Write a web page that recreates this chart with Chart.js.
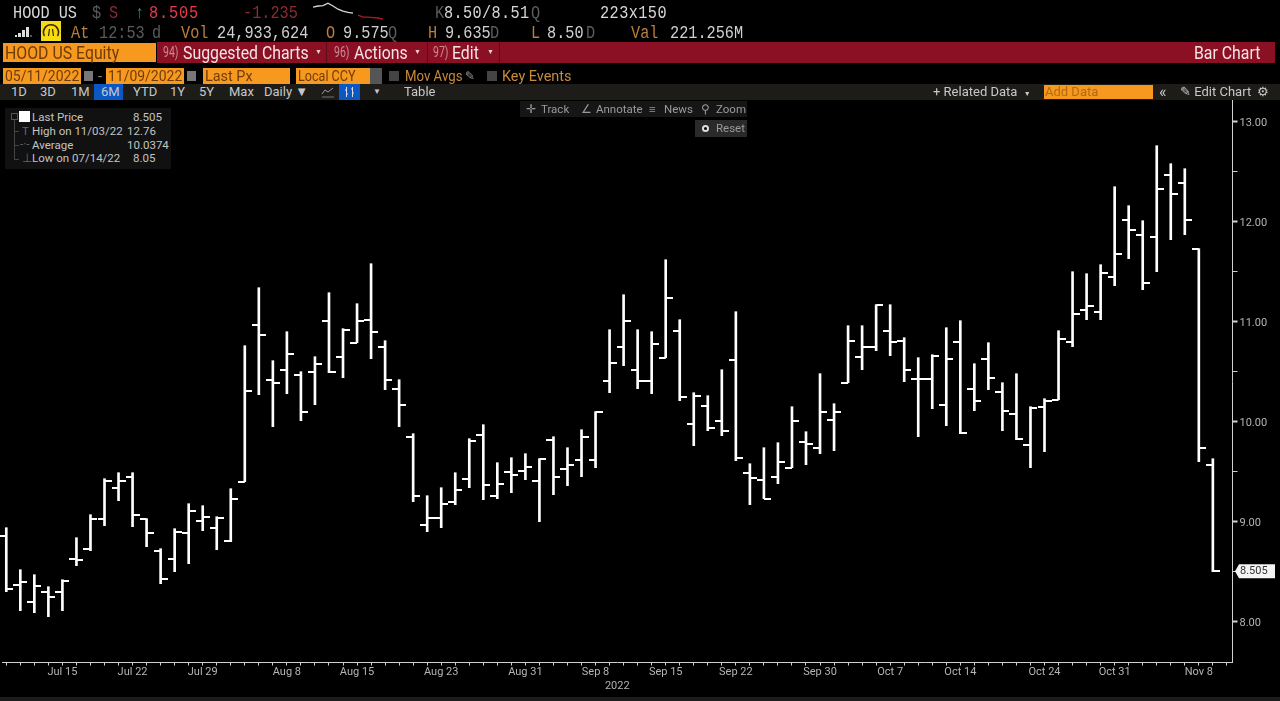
<!DOCTYPE html>
<html>
<head>
<meta charset="utf-8">
<script src="https://cdn.jsdelivr.net/npm/chart.js@4"></script>
<style>
html, body { margin: 0; padding: 0; width: 1280px; height: 701px; overflow: hidden; background: #000; }
body { font-family: "Roboto", sans-serif; position: relative; }
canvas { position: absolute; left: 0; top: 0; }
.t { position: absolute; white-space: pre; transform-origin: 0 50%; }
.box { position: absolute; }
.r1, .r2 { font-family: "Liberation Mono", monospace; font-size: 17.5px; line-height: 20px; color: #d8d8d8; transform: scaleX(.87); }
.r1 { top: 3px; }
.r2 { top: 23px; color: #d0d0d0; }
.tan { color: #b97f3d; }
.dim { color: #5c5c5c; }
.r3 { font-size: 18px; line-height: 21px; top: 42px; color: #f4e4e4; transform: scaleX(.88); }
.num { font-size: 14px; color: #c98a94; transform: scaleX(.75); }
.arr { font-size: 7px; color: #e8d0d0; transform: none; }
.r4 { font-size: 15px; line-height: 16px; top: 68px; color: #6e3c08; }
.r5 { font-size: 13px; line-height: 16px; top: 84px; color: #c8c8c8; }
.tool { font-size: 11.5px; line-height: 15px; top: 102px; color: #9a9a9a; }
.leg { font-size: 11.5px; line-height: 14px; color: #c4c4c4; }
</style>
</head>
<body>
<canvas id="ohlc_chart" width="1280" height="701"></canvas>

<!-- top rows -->
<span class="t r1" style="left:13px">HOOD US</span>
<span class="t r1 dim" style="left:92px">$</span>
<span class="t r1" style="left:109px;color:#8c2b33">S</span>
<span class="t r1" style="left:135px;color:#2f9a55">↑</span>
<span class="t r1" style="left:149px;color:#e8384f;letter-spacing:1px">8.505</span>
<span class="t r1" style="left:243px;color:#8c2b33">-1.235</span>
<canvas id="spark" width="70" height="22" style="left:313px;top:0"></canvas>
<span class="t r1 dim" style="left:435px">K</span>
<span class="t r1" style="left:444px;letter-spacing:.4px">8.50/8.51</span>
<span class="t r1 dim" style="left:531px">Q</span>
<span class="t r1" style="left:600px;letter-spacing:.5px">223x150</span>

<svg class="box" style="left:15px;top:26px" width="20" height="12"><rect x="0" y="9" width="2" height="2" fill="#ddd"/><rect x="3" y="7" width="3" height="4" fill="#ddd"/><rect x="7" y="4" width="3" height="7" fill="#ddd"/><rect x="11" y="1" width="3" height="10" fill="#ddd"/><rect x="15" y="9" width="2" height="2" fill="#555"/></svg>
<svg class="box" style="left:41px;top:21px" width="20" height="20"><rect width="20" height="20" fill="#f6dc12"/><path d="M3.5 15 A7.5 7.5 0 1 1 16.5 15" fill="none" stroke="#3a2a00" stroke-width="1.6"/><path d="M7.5 15 L8.5 8 M12.5 15 L11.5 8" stroke="#3a2a00" stroke-width="1.2"/></svg>
<span class="t r2 tan" style="left:71px">At</span>
<span class="t r2 dim" style="left:99px">12:53</span>
<span class="t r2 dim" style="left:152px">d</span>
<span class="t r2 tan" style="left:181px">Vol</span>
<span class="t r2" style="left:217px">24,933,624</span>
<span class="t r2 tan" style="left:326px">O</span>
<span class="t r2" style="left:343px">9.575</span>
<span class="t r2 dim" style="left:388px">Q</span>
<span class="t r2 tan" style="left:428px">H</span>
<span class="t r2" style="left:445px">9.635</span>
<span class="t r2 dim" style="left:490px">D</span>
<span class="t r2 tan" style="left:531px">L</span>
<span class="t r2" style="left:547px">8.50</span>
<span class="t r2 dim" style="left:586px">D</span>
<span class="t r2 tan" style="left:631px">Val</span>
<span class="t r2" style="left:670px">221.256M</span>

<!-- red menu bar -->
<div class="box" style="left:157px;top:42px;width:1118px;height:21px;background:#8c1024"></div>
<div class="box" style="left:326px;top:42px;width:1px;height:21px;background:#5e0a18"></div>
<div class="box" style="left:427px;top:42px;width:1px;height:21px;background:#5e0a18"></div>
<div class="box" style="left:499px;top:42px;width:1px;height:21px;background:#5e0a18"></div>
<div class="box" style="left:3px;top:43px;width:153px;height:19px;background:#f7981f"></div>
<span class="t r3" style="left:5px;color:#6e3c08">HOOD US Equity</span>
<span class="t r3 num" style="left:163px">94)</span>
<span class="t r3" style="left:183px">Suggested Charts</span>
<span class="t r3 arr" style="left:315px">▼</span>
<span class="t r3 num" style="left:334px">96)</span>
<span class="t r3" style="left:354px">Actions</span>
<span class="t r3 arr" style="left:414px">▼</span>
<span class="t r3 num" style="left:433px">97)</span>
<span class="t r3" style="left:452px">Edit</span>
<span class="t r3 arr" style="left:487px">▼</span>
<span class="t r3" style="left:1194px">Bar Chart</span>

<!-- date and field row -->
<div class="box" style="left:3px;top:68px;width:78px;height:16px;background:#f7981f"></div>
<div class="box" style="left:84px;top:71px;width:9px;height:10px;background:#777"></div>
<span class="t r4" style="left:98px;color:#888">-</span>
<div class="box" style="left:106px;top:68px;width:78px;height:16px;background:#f7981f"></div>
<div class="box" style="left:187px;top:71px;width:9px;height:10px;background:#777"></div>
<div class="box" style="left:203px;top:68px;width:87px;height:16px;background:#f7981f"></div>
<div class="box" style="left:296px;top:68px;width:74px;height:16px;background:#f7981f"></div>
<div class="box" style="left:370px;top:68px;width:12px;height:16px;background:#555"></div>
<div class="box" style="left:389px;top:71px;width:10px;height:10px;background:#444"></div>
<div class="box" style="left:487px;top:71px;width:10px;height:10px;background:#444"></div>
<span class="t r4" style="left:5px;transform:scaleX(.93)">05/11/2022</span>
<span class="t r4" style="left:108px;transform:scaleX(.93)">11/09/2022</span>
<span class="t r4" style="left:205px;transform:scaleX(.96)">Last Px</span>
<span class="t r4" style="left:298px;transform:scaleX(.84)">Local CCY</span>
<span class="t r4" style="left:405px;color:#c98a3a;transform:scaleX(.88)">Mov Avgs</span>
<span class="t r4" style="left:465px;color:#999;font-family:'DejaVu Sans';font-size:12px">✎</span>
<span class="t r4" style="left:502px;color:#c98a3a;transform:scaleX(.96)">Key Events</span>

<!-- range buttons row -->
<div class="box" style="left:0;top:84px;width:1280px;height:16px;background:#1d1c19"></div>
<div class="box" style="left:94px;top:84px;width:29px;height:16px;background:#0b57c4"></div>
<div class="box" style="left:339px;top:84px;width:21px;height:16px;background:#0b57c4"></div>
<div class="box" style="left:1044px;top:85px;width:109px;height:14px;background:#f7981f"></div>
<span class="t r5" style="left:11px">1D</span>
<span class="t r5" style="left:40px">3D</span>
<span class="t r5" style="left:71px">1M</span>
<span class="t r5" style="left:101px">6M</span>
<span class="t r5" style="left:133px">YTD</span>
<span class="t r5" style="left:170px">1Y</span>
<span class="t r5" style="left:199px">5Y</span>
<span class="t r5" style="left:229px">Max</span>
<span class="t r5" style="left:264px">Daily ▼</span>
<svg class="box" style="left:321px;top:86px" width="14" height="12"><path d="M1 8 L4 4 L7 6 L12 2" fill="none" stroke="#999"/><path d="M1 11 H13" stroke="#777"/></svg>
<svg class="box" style="left:343px;top:86px" width="14" height="12"><path d="M3.5 1 V11 M2 4 H3.5 M3.5 8 H5 M9.5 1 V11 M8 3 H9.5 M9.5 7 H11" stroke="#ddd"/></svg>
<span class="t r5" style="left:373px;font-size:8px">▼</span>
<span class="t r5" style="left:404px">Table</span>
<span class="t r5" style="left:933px">+ Related Data  <span style="font-size:7px">▼</span></span>
<span class="t r5" style="left:1045px;color:#b06a10">Add Data</span>
<span class="t r5" style="left:1159px;font-size:16px">«</span>
<span class="t r5" style="left:1180px">✎ Edit Chart</span>
<span class="t r5" style="left:1257px;font-family:'DejaVu Sans'">⚙</span>

<!-- chart tools -->
<div class="box" style="left:520px;top:101px;width:227px;height:16px;background:#161616"></div>
<div class="box" style="left:695px;top:120px;width:52px;height:17px;background:#2a2a2a"></div>
<div class="box" style="left:702px;top:125px;width:7px;height:7px;border-radius:50%;background:#000;border:2px solid #ddd;box-sizing:border-box"></div>
<span class="t tool" style="left:526px">✛</span>
<span class="t tool" style="left:541px">Track</span>
<span class="t tool" style="left:581px">∠</span>
<span class="t tool" style="left:596px">Annotate</span>
<span class="t tool" style="left:649px">≡</span>
<span class="t tool" style="left:664px">News</span>
<span class="t tool" style="left:701px">⚲</span>
<span class="t tool" style="left:716px">Zoom</span>
<span class="t tool" style="left:716px;top:121px">Reset</span>

<!-- legend box -->
<div class="box" style="left:5px;top:108px;width:166px;height:61px;background:#111"></div>
<div class="box" style="left:19px;top:111px;width:11px;height:11px;background:#fff"></div>
<div class="box" style="left:11px;top:113px;width:5px;height:5px;border:1px solid #555"></div>
<div class="box" style="left:14px;top:120px;width:1px;height:39px;background:#444"></div>
<div class="box" style="left:14px;top:131px;width:5px;height:1px;background:#444"></div>
<div class="box" style="left:14px;top:145px;width:5px;height:1px;background:#444"></div>
<div class="box" style="left:14px;top:159px;width:5px;height:1px;background:#444"></div>
<span class="t leg" style="left:22px;top:124px;color:#666">T</span>
<span class="t leg" style="left:20px;top:137px;color:#666">-·-</span>
<span class="t leg" style="left:22px;top:151px;color:#666">⊥</span>
<span class="t leg" style="left:32px;top:110px">Last Price</span>
<span class="t leg" style="left:133px;top:110px">8.505</span>
<span class="t leg" style="left:32px;top:124px">High on 11/03/22</span>
<span class="t leg" style="left:127px;top:124px">12.76</span>
<span class="t leg" style="left:32px;top:138px">Average</span>
<span class="t leg" style="left:127px;top:138px">10.0374</span>
<span class="t leg" style="left:32px;top:151px">Low on 07/14/22</span>
<span class="t leg" style="left:133px;top:151px">8.05</span>

<div class="box" style="left:0;top:697px;width:1280px;height:4px;background:#1c1c1c"></div>

<script>
const categories = [
    'Jul 11', 'Jul 12', 'Jul 13', 'Jul 14', 'Jul 15', 'Jul 18', 'Jul 19', 'Jul 20', 'Jul 21', 'Jul 22',
    'Jul 25', 'Jul 26', 'Jul 27', 'Jul 28', 'Jul 29', 'Aug 1', 'Aug 2', 'Aug 3', 'Aug 4', 'Aug 5',
    'Aug 8', 'Aug 9', 'Aug 10', 'Aug 11', 'Aug 12', 'Aug 15', 'Aug 16', 'Aug 17', 'Aug 18', 'Aug 19',
    'Aug 22', 'Aug 23', 'Aug 24', 'Aug 25', 'Aug 26', 'Aug 29', 'Aug 30', 'Aug 31', 'Sep 1', 'Sep 2',
    'Sep 6', 'Sep 7', 'Sep 8', 'Sep 9', 'Sep 12', 'Sep 13', 'Sep 14', 'Sep 15', 'Sep 16', 'Sep 19',
    'Sep 20', 'Sep 21', 'Sep 22', 'Sep 23', 'Sep 26', 'Sep 27', 'Sep 28', 'Sep 29', 'Sep 30', 'Oct 3',
    'Oct 4', 'Oct 5', 'Oct 6', 'Oct 7', 'Oct 10', 'Oct 11', 'Oct 12', 'Oct 13', 'Oct 14', 'Oct 17',
    'Oct 18', 'Oct 19', 'Oct 20', 'Oct 21', 'Oct 24', 'Oct 25', 'Oct 26', 'Oct 27', 'Oct 28', 'Oct 31',
    'Nov 1', 'Nov 2', 'Nov 3', 'Nov 4', 'Nov 7', 'Nov 8', 'Nov 9'
];
const labelledDates = ['Jul 15', 'Jul 22', 'Jul 29', 'Aug 8', 'Aug 15', 'Aug 23', 'Aug 31', 'Sep 8', 'Sep 15',
    'Sep 22', 'Sep 30', 'Oct 7', 'Oct 14', 'Oct 24', 'Oct 31', 'Nov 8'];

const opens = [
    8.86, 8.37, 8.20, 8.30, 8.30, 8.63, 8.73, 9.03, 9.34, 9.45,
    9.03, 8.71, 8.63, 8.89, 9.01, 8.94, 8.81, 9.40, 10.97, 10.42,
    10.52, 10.47, 10.50, 11.01, 10.65, 10.79, 11.02, 10.75, 10.33, 9.85,
    8.97, 9.04, 9.20, 9.43, 9.87, 9.26, 9.50, 9.51, 9.41, 9.82,
    9.53, 9.62, 9.62, 10.41, 10.75, 10.52, 10.41, 10.64, 10.91, 9.98,
    10.16, 10.01, 10.62, 9.49, 9.42, 9.45, 9.54, 9.80, 9.74, 10.02,
    10.39, 10.65, 10.75, 10.91, 10.81, 10.43, 10.43, 10.17, 10.80, 10.33,
    10.63, 10.30, 10.08, 9.77, 10.15, 10.22, 10.80, 11.12, 11.10, 11.45,
    12.02, 11.87, 11.85, 12.47, 12.39, 11.73, 9.57
];
const highs = [
    8.94, 8.52, 8.47, 8.35, 8.42, 8.84, 9.07, 9.43, 9.49, 9.49,
    9.03, 8.73, 8.93, 9.18, 9.16, 9.05, 9.33, 10.76, 11.34, 10.61,
    10.90, 10.50, 10.65, 11.29, 10.93, 11.18, 11.58, 10.81, 10.42, 9.88,
    9.26, 9.34, 9.49, 9.83, 9.97, 9.59, 9.64, 9.68, 9.63, 9.85,
    9.74, 9.92, 10.10, 10.92, 11.27, 10.92, 10.90, 11.62, 11.02, 10.29,
    10.26, 10.52, 11.10, 9.58, 9.74, 9.79, 10.15, 9.90, 10.48, 10.18,
    10.96, 10.96, 11.17, 11.17, 10.84, 10.64, 10.67, 10.94, 11.01, 10.58,
    10.79, 10.39, 10.48, 10.15, 10.23, 10.91, 11.50, 11.48, 11.57, 12.35,
    12.16, 12.01, 12.76, 12.58, 12.53, 11.73, 9.63
];
const lows = [
    8.30, 8.11, 8.09, 8.05, 8.11, 8.56, 8.71, 8.96, 9.21, 8.95,
    8.75, 8.38, 8.50, 8.58, 8.91, 8.72, 8.80, 9.40, 10.27, 9.95,
    10.28, 10.01, 10.17, 10.49, 10.44, 10.79, 10.63, 10.32, 9.95, 9.20,
    8.90, 8.94, 9.17, 9.34, 9.22, 9.23, 9.29, 9.42, 9.00, 9.27,
    9.36, 9.45, 9.54, 10.29, 10.56, 10.33, 10.28, 10.64, 10.21, 9.76,
    9.91, 9.86, 9.61, 9.17, 9.23, 9.38, 9.54, 9.57, 9.68, 9.71,
    10.39, 10.52, 10.71, 10.66, 10.40, 9.85, 10.13, 9.96, 9.88, 10.11,
    10.32, 9.91, 9.82, 9.54, 9.70, 10.22, 10.75, 11.02, 11.02, 11.36,
    11.63, 11.32, 11.50, 11.82, 11.87, 9.60, 8.50
];
const closes = [
    8.33, 8.40, 8.36, 8.25, 8.41, 8.62, 9.03, 9.41, 9.41, 9.07,
    8.89, 8.43, 8.90, 9.11, 9.05, 9.04, 9.23, 10.31, 10.87, 10.39,
    10.68, 10.10, 10.58, 10.50, 10.92, 11.01, 10.90, 10.42, 10.17, 9.26,
    9.04, 9.18, 9.32, 9.81, 9.37, 9.38, 9.47, 9.55, 9.63, 9.45,
    9.57, 9.85, 10.10, 10.59, 11.01, 10.41, 10.78, 11.24, 10.25, 10.26,
    9.94, 9.91, 9.64, 9.44, 9.23, 9.60, 10.01, 9.78, 10.10, 10.10,
    10.81, 10.75, 11.17, 10.80, 10.52, 10.43, 10.66, 10.63, 9.89, 10.21,
    10.44, 10.11, 9.83, 10.14, 10.21, 10.83, 11.08, 11.16, 11.49, 11.68,
    11.92, 11.39, 12.33, 12.28, 12.02, 9.74, 8.505
];
const lastPrice = 8.505;

const sparkLabels = [0, 1, 2, 3, 4, 5, 6, 7, 8, 9, 10, 11, 12, 13, 14];
const sparkMorning = [9.47, 9.50, 9.51, 9.57, 9.50, 9.42, 9.37, 9.34, 9.32, null, null, null, null, null, null];
const sparkAfter = [null, null, null, null, null, null, null, null, null, 9.27, 9.22, 9.22, 9.21, 9.20, 9.17];

// little canvases used as point styles: open tick goes left of the bar, close tick right
function tickImage(side) {
    const c = document.createElement('canvas');
    c.width = 14;
    c.height = 2;
    const g = c.getContext('2d');
    g.fillStyle = '#fff';
    g.fillRect(side === 'left' ? 0 : 7, 0, 7, 2);
    return c;
}

const lastTag = {
    id: 'lastTag',
    afterDraw(chart) {
        const y = chart.scales.y.getPixelForValue(lastPrice);
        const g = chart.ctx;
        g.save();
        g.fillStyle = '#f4f4f4';
        g.beginPath();
        g.moveTo(1235, y);
        g.lineTo(1239, y - 7);
        g.lineTo(1275, y - 7);
        g.lineTo(1275, y + 7);
        g.lineTo(1239, y + 7);
        g.closePath();
        g.fill();
        g.fillStyle = '#333';
        g.font = '11px Roboto';
        g.textBaseline = 'middle';
        g.fillText(lastPrice.toFixed(3), 1240, y + 0.5);
        g.restore();
    }
};

new Chart(document.querySelector('#ohlc_chart'), {
    type: 'bar',
    plugins: [lastTag],
    data: {
        datasets: [
            {
                data: categories.map((d, i) => ({ x: i, y: [lows[i], highs[i]] })),
                backgroundColor: '#fff',
                barThickness: 2,
                clip: false
            },
            {
                type: 'line',
                data: categories.map((d, i) => ({ x: i, y: opens[i] })),
                showLine: false,
                pointStyle: tickImage('left'),
                clip: false
            },
            {
                type: 'line',
                data: categories.map((d, i) => ({ x: i, y: closes[i] })),
                showLine: false,
                pointStyle: tickImage('right'),
                clip: false
            }
        ]
    },
    options: {
        responsive: false,
        animation: false,
        events: [],
        layout: { autoPadding: false, padding: { left: 2, top: 100, right: 0, bottom: 0 } },
        plugins: { legend: false, tooltip: { enabled: false } },
        scales: {
            x: {
                type: 'linear',
                offset: false,
                min: -0.306,
                max: 87.4,
                afterFit: s => { s.height = 38.5; s.paddingLeft = 0; s.paddingRight = 0; },
                border: { color: '#d0d0d0', width: 1 },
                grid: { drawOnChartArea: false, offset: false, tickLength: 3, tickColor: '#d0d0d0' },
                ticks: {
                    stepSize: 1,
                    includeBounds: false,
                    autoSkip: false,
                    maxRotation: 0,
                    padding: 0,
                    color: '#b4b4b4',
                    font: { family: 'Roboto', size: 11 },
                    callback: v => labelledDates.includes(categories[v]) ? categories[v] : ''
                },
                title: {
                    display: true,
                    text: '2022',
                    color: '#b4b4b4',
                    font: { family: 'Roboto', size: 11 },
                    padding: { top: 0, bottom: 8 }
                }
            },
            y: {
                position: 'right',
                min: 7.592,
                max: 13.217,
                afterFit: s => { s.width = 47.5; s.paddingTop = 0; s.paddingBottom = 0; },
                border: { color: '#d0d0d0', width: 1 },
                grid: {
                    drawOnChartArea: false,
                    tickLength: 5,
                    tickColor: '#d0d0d0',
                    tickWidth: c => Number.isInteger(c.tick.value) ? 2 : 1
                },
                ticks: {
                    stepSize: 0.5,
                    includeBounds: false,
                    padding: 2,
                    labelOffset: 1.5,
                    color: '#b4b4b4',
                    font: { family: 'Roboto', size: 11 },
                    callback: v => Number.isInteger(v) ? v.toFixed(2) : ''
                }
            }
        }
    }
});

// sparkline in the header
new Chart(document.querySelector('#spark'), {
    type: 'line',
    data: {
        labels: sparkLabels,
        datasets: [
            { data: sparkMorning, borderColor: '#d8d8d8', borderWidth: 1.3, pointRadius: 0 },
            { data: sparkAfter, borderColor: '#b01828', borderWidth: 1.3, pointRadius: 0 }
        ]
    },
    options: {
        responsive: false,
        animation: false,
        events: [],
        layout: { autoPadding: false },
        plugins: { legend: false, tooltip: { enabled: false } },
        scales: {
            x: { display: false },
            y: { display: false, min: 9.1, max: 9.65 }
        }
    }
});
</script>
</body>
</html>
